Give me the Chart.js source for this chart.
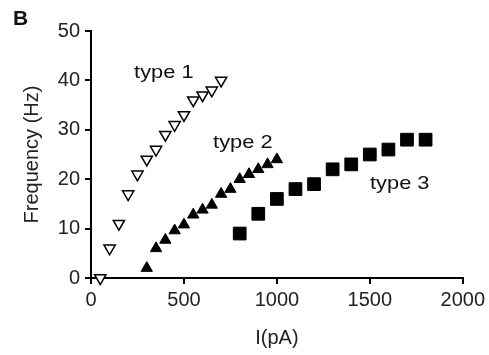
<!DOCTYPE html>
<html>
<head>
<meta charset="utf-8">
<script src="https://cdn.jsdelivr.net/npm/chart.js@4/dist/chart.umd.min.js"></script>
<style>
  html, body { margin: 0; padding: 0; background: #fff; }
  #wrap { position: relative; width: 489px; height: 355px; }
  #panel { position: absolute; left: 13px; top: 6px; font: bold 21px "Liberation Sans", Arial, sans-serif; color: #111; }
</style>
</head>
<body>
<div id="wrap">
  <canvas id="chart" width="489" height="355"></canvas>
  <div id="panel">B</div>
</div>
<script>
// current steps (pA) and firing frequency (Hz)
const type1X = [50, 100, 150, 200, 250, 300, 350, 400, 450, 500, 550, 600, 650, 700];
const type1Y = [0, 6, 11, 17, 21, 24, 26, 29, 31, 33, 36, 37, 38, 40];

const type2X = [300, 350, 400, 450, 500, 550, 600, 650, 700, 750, 800, 850, 900, 950, 1000];
const type2Y = [2, 6, 7.7, 9.6, 10.8, 12.8, 13.8, 14.8, 17, 18, 20, 21, 22, 23, 24];

const type3X = [800, 900, 1000, 1100, 1200, 1300, 1400, 1500, 1600, 1700, 1800];
const type3Y = [9, 13, 16, 18, 19, 22, 23, 25, 26, 28, 28];

const xTicks = [0, 500, 1000, 1500, 2000];
const yTicks = [0, 10, 20, 30, 40, 50];

const typeLabels = ['type 1', 'type 2', 'type 3'];
const labelX = [392, 817, 1661];
const labelY = [41.6, 27.4, 19.1];

const toPts = (xs, ys) => xs.map((x, i) => ({ x: x, y: ys[i] }));

const textFont = '"Liberation Sans", Arial, sans-serif';

// writes the "type n" notes next to each curve (text a bit wider, like the figure)
const notes = {
  id: 'notes',
  afterDatasetsDraw(chart) {
    const ctx = chart.ctx;
    typeLabels.forEach((t, i) => {
      ctx.save();
      ctx.translate(chart.scales.x.getPixelForValue(labelX[i]), chart.scales.y.getPixelForValue(labelY[i]));
      ctx.scale(1.15, 1);
      ctx.font = '19px ' + textFont;
      ctx.fillStyle = '#111';
      ctx.textAlign = 'center';
      ctx.textBaseline = 'middle';
      ctx.fillText(t, 0, 0);
      ctx.restore();
    });
  }
};

new Chart(document.getElementById('chart').getContext('2d'), {
  type: 'scatter',
  data: {
    datasets: [
      {
        label: 'type 1',
        data: toPts(type1X, type1Y),
        pointStyle: 'triangle',
        rotation: 180,
        pointRadius: 6.5,
        borderWidth: 1.5,
        borderColor: '#000',
        backgroundColor: '#fff'
      },
      {
        label: 'type 2',
        data: toPts(type2X, type2Y),
        pointStyle: 'triangle',
        pointRadius: 6.5,
        borderWidth: 1,
        borderColor: '#000',
        backgroundColor: '#000'
      },
      {
        label: 'type 3',
        data: toPts(type3X, type3Y),
        pointStyle: 'rect',
        pointRadius: 9,
        borderWidth: 1,
        borderColor: '#000',
        backgroundColor: '#000'
      }
    ]
  },
  options: {
    responsive: false,
    animation: false,
    clip: false,
    layout: { padding: { left: 0, right: 26, top: 31, bottom: 0 } },
    plugins: {
      legend: { display: false },
      tooltip: { enabled: false }
    },
    scales: {
      x: {
        type: 'linear',
        min: 0,
        max: 2000,
        afterBuildTicks: s => { s.ticks = xTicks.map(v => ({ value: v })); },
        afterFit: s => { s.height = 77; },
        grid: { display: true, drawOnChartArea: false, drawTicks: true, tickLength: 6, color: '#000', lineWidth: 2 },
        border: { display: true, color: '#000', width: 2 },
        ticks: { color: '#222', font: { size: 20, family: textFont }, padding: 4, maxRotation: 0, callback: v => String(v) },
        title: { display: true, text: 'I(pA)', color: '#222', font: { size: 20, family: textFont }, padding: { top: 0, bottom: 5 } }
      },
      y: {
        type: 'linear',
        min: 0,
        max: 50,
        afterBuildTicks: s => { s.ticks = yTicks.map(v => ({ value: v })); },
        afterFit: s => { s.width = 91; },
        grid: { display: true, drawOnChartArea: false, drawTicks: true, tickLength: 6, color: '#000', lineWidth: 2 },
        border: { display: true, color: '#000', width: 2 },
        ticks: { color: '#222', font: { size: 20, family: textFont }, padding: 5, callback: v => String(v) },
        title: { display: true, text: 'Frequency (Hz)', color: '#222', font: { size: 20, family: textFont }, padding: { top: 20, bottom: 0 } }
      }
    }
  },
  plugins: [notes]
});
</script>
</body>
</html>
